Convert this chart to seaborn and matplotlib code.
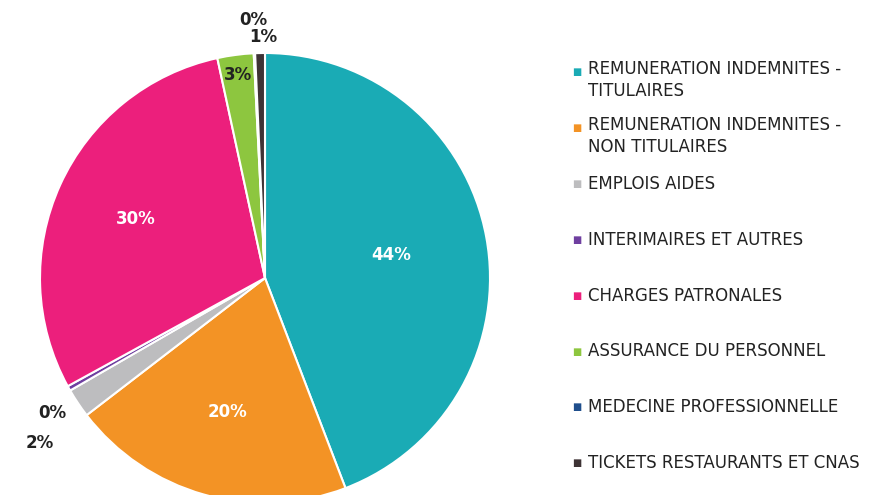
import numpy as np
import seaborn as sns
import matplotlib.pyplot as plt

# Data (share of personnel spending, %)
categories = ['REMUNERATION INDEMNITES -\nTITULAIRES',
              'REMUNERATION INDEMNITES -\nNON TITULAIRES',
              'EMPLOIS AIDES',
              'INTERIMAIRES ET AUTRES',
              'CHARGES PATRONALES',
              'ASSURANCE DU PERSONNEL',
              'MEDECINE PROFESSIONNELLE',
              'TICKETS RESTAURANTS ET CNAS']
shares = [44.2, 20.4, 2.1, 0.35, 29.6, 2.6, 0.1, 0.7]
colors = ['#1AABB5', '#F39325', '#BDBDBF', '#6F3FA0',
          '#EC1F7C', '#8DC63F', '#1F4E8C', '#3E3335']

sns.set_theme(style='white')
plt.rcParams['font.family'] = ['DejaVu Sans']
palette = sns.color_palette(colors)

fig = plt.figure(figsize=(8.71, 4.95), dpi=100)
ax = fig.add_axes([40 / 871, -8 / 495, 450 / 871, 450 / 495])

wedges, _ = ax.pie(shares, colors=palette, startangle=90, counterclock=False,
                   wedgeprops=dict(edgecolor='white', linewidth=1.5))
ax.set_aspect('equal')

# label radius / angle nudge / colour per slice
label_r = [0.57, 0.62, 1.24, 1.12, 0.63, 0.91, 1.15, 1.07]
label_da = [0, 0, 2.5, 3, 0, 0, 0, -0.8]
label_c = ['white', 'white', '#222222', '#222222', 'white', '#222222', '#222222', '#222222']
total = sum(shares)
for w, v, r, da, c in zip(wedges, shares, label_r, label_da, label_c):
    ang = np.deg2rad((w.theta1 + w.theta2) / 2 + da)
    ax.text(r * np.cos(ang), r * np.sin(ang), f'{round(v / total * 100):.0f}%',
            ha='center', va='center', color=c, fontsize=12, fontweight='bold')
ax.set_xlim(-1, 1)
ax.set_ylim(-1, 1)

# legend drawn by hand to keep the even row spacing of the original
for i, (lab, col) in enumerate(zip(categories, palette)):
    y = 1 - (72 + 55.9 * i) / 495
    fig.text(577 / 871, y, '■', color=col, fontsize=7, ha='center', va='center')
    fig.text(588 / 871, y + 0.024 if '\n' in lab else y, lab, color='#222222',
             fontsize=12, ha='left', va='top' if '\n' in lab else 'center',
             linespacing=1.25)

plt.savefig('out.png', dpi=100)
